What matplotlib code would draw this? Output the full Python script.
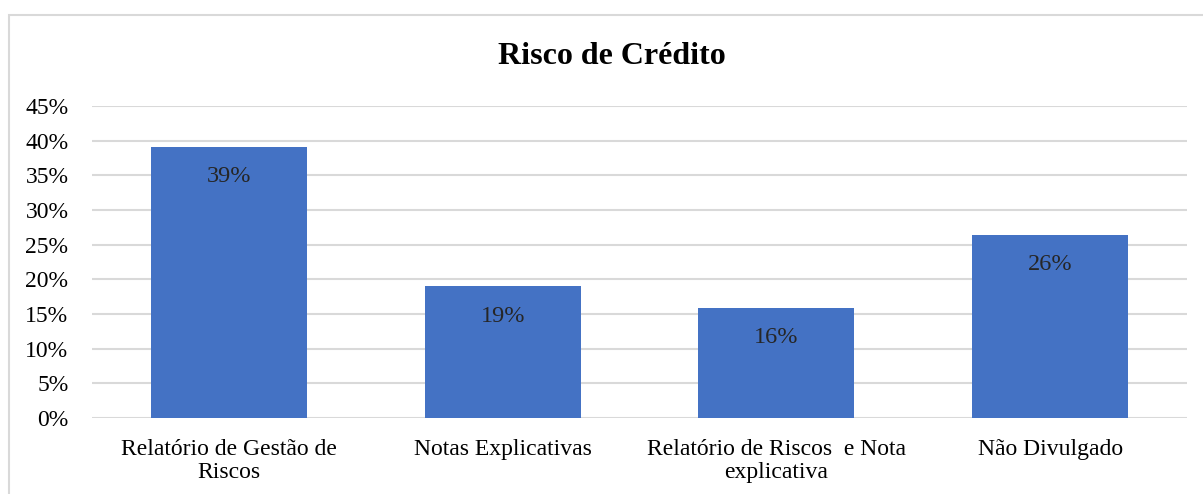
import matplotlib
matplotlib.use("Agg")
import matplotlib.pyplot as plt
from matplotlib.patches import Rectangle
from matplotlib.ticker import MultipleLocator, FuncFormatter

categories = ["Relatório de Gestão de\nRiscos", "Notas Explicativas",
              "Relatório de Riscos  e Nota\nexplicativa", "Não Divulgado"]
values = [0.391, 0.190, 0.159, 0.264]
labels = ["39%", "19%", "16%", "26%"]

_BAR = "#4472C4"
_GRID = "#D9D9D9"

plt.rcParams["font.family"] = ["Liberation Serif", "DejaVu Serif"]

fig = plt.figure(figsize=(12.03, 4.94), dpi=100)
fig.patch.set_facecolor("white")
fig.patches.append(Rectangle((9 / 1203, -0.1), 1.2, 1 - 15 / 494 + 0.1, transform=fig.transFigure,
                             fill=False, edgecolor=_GRID, linewidth=1.5))

ax = fig.add_axes([92 / 1203, 1 - 418 / 494, 1095 / 1203, 312 / 494])
x = range(len(categories))
bars = ax.bar(x, values, width=0.57, color=_BAR, zorder=3)
for bar, lab in zip(bars, labels):
    ax.annotate(lab, (bar.get_x() + bar.get_width() / 2, bar.get_height()),
                xytext=(0, -21.5), textcoords="offset points",
                ha="center", va="center", fontsize=17.5, color="#262626", zorder=4)

ax.set_xlim(-0.5, len(categories) - 0.5)
ax.set_ylim(0, 0.45)
ax.yaxis.set_major_locator(MultipleLocator(0.05))
ax.yaxis.set_major_formatter(FuncFormatter(lambda v, _: f"{v * 100:.0f}%"))
ax.grid(axis="y", color=_GRID, linewidth=1.5, zorder=0)
ax.set_xticks(list(x))
ax.set_xticklabels(categories, fontsize=17, linespacing=1.15)
ax.tick_params(axis="y", labelsize=17, length=0, pad=17)
ax.tick_params(axis="x", length=0, pad=15)
for s in ax.spines.values():
    s.set_visible(False)

fig.text(0.509, 1 - 57 / 494, "Risco de Crédito", ha="center", va="center",
         fontsize=23, fontweight="bold")

fig.savefig("out.png", dpi=100)
